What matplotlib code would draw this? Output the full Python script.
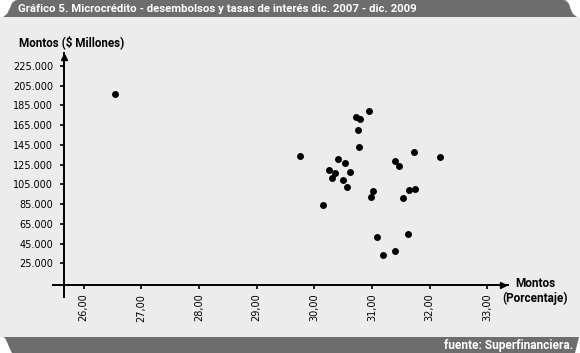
import matplotlib
matplotlib.use("Agg")
import matplotlib.pyplot as plt
from matplotlib.patches import Polygon, Rectangle

# tasas de interes (%) y desembolsos (miles de millones)
tasas = [30.94, 30.73, 30.79, 30.75, 30.77, 29.75, 31.72, 32.18, 30.41, 30.53,
         31.40, 31.46, 30.25, 30.35, 30.62, 30.31, 30.49, 30.56, 31.01, 30.98,
         31.64, 31.75, 31.53, 30.15, 31.62, 31.09, 31.39, 31.19, 26.55]
montos = [179.3, 173.5, 171.5, 159.7, 142.8, 133.6, 137.7, 132.3, 130.6, 126.5,
          128.9, 123.8, 119.1, 116.4, 117.7, 111.0, 109.0, 102.5, 98.4, 91.7,
          99.1, 100.8, 91.3, 83.9, 54.7, 52.1, 37.5, 33.4, 196.9]

x_ticks = [26, 27, 28, 29, 30, 31, 32, 33]
x_labels = ["26,00", "27,00", "28,00", "29,00", "30,00", "31,00", "32,00", "33,00"]
y_ticks = [25, 45, 65, 85, 105, 125, 145, 165, 185, 205, 225]
y_labels = ["25.000", "45.000", "65.000", "85.000", "105.000", "125.000",
            "145.000", "165.000", "185.000", "205.000", "225.000"]

titulo = "Gráfico 5. Microcrédito - desembolsos y tasas de interés dic. 2007 - dic. 2009"
fuente = "fuente: Superfinanciera."

narrow = ['Roboto', 'DejaVu Sans']
dark = '#6d6d6d'
bg = '#ececec'

fig = plt.figure(figsize=(5.8, 3.53), dpi=100)
fig.patch.set_facecolor('white')

# fondo y pestañas en pixeles
deco = fig.add_axes([0, 0, 1, 1])
deco.set_xlim(0, 580)
deco.set_ylim(353, 0)
deco.axis('off')
deco.add_patch(Rectangle((0, 17), 580, 320, color=bg, lw=0))
deco.add_patch(Polygon([(3, 17), (7, 14), (10, 8), (12, 3), (15, 0.5), (18, 0),
                        (563, 0), (566, 0.5), (569, 4), (571, 10), (573, 14),
                        (577, 17)], closed=True, color=dark, lw=0))
deco.add_patch(Polygon([(3, 337), (5, 338), (7, 342), (10, 349), (12, 353),
                        (575, 353), (577, 345), (579, 337)], closed=True,
                       color=dark, lw=0))
deco.text(18, 8.5, titulo, color='white', fontsize=8.2, fontweight='bold',
          family=narrow, va='center', ha='left')
deco.text(573, 345.5, fuente, color='white', fontsize=8.6, fontweight='bold',
          family=narrow, va='center', ha='right')
deco.text(19, 42.5, "Montos ($ Millones)", color='black', fontsize=8.4,
          fontweight='bold', family=narrow, va='center', ha='left')
deco.text(535, 291, "Montos\n(Porcentaje)", color='black', fontsize=8.5,
          fontweight='bold', family=narrow, va='center', ha='center',
          linespacing=1.25)

# grafico
ax = fig.add_axes([0.0909, 0.1578, 0.7845, 0.6912])
ax.patch.set_alpha(0)
x0, x1 = 25.462, 33.353
y0, y1 = -9.5, 237.9
xa, ya = 25.658, 3.3
ax.set_xlim(x0, x1)
ax.set_ylim(y0, y1)

for s in ['top', 'right']:
    ax.spines[s].set_visible(False)
ax.spines['left'].set_position(('data', xa))
ax.spines['bottom'].set_position(('data', ya))
ax.spines['left'].set_linewidth(1.4)
ax.spines['bottom'].set_linewidth(1.4)
ax.plot([x1 - 0.09], [ya], marker='>', color='k', ms=5, clip_on=False)
ax.plot([xa], [y1 - 3.5], marker='^', color='k', ms=5, clip_on=False)

ax.set_xticks(x_ticks)
ax.set_xticklabels(x_labels, rotation=90, fontsize=7)
ax.set_yticks(y_ticks)
ax.set_yticklabels(y_labels, fontsize=7)
ax.tick_params(axis='both', direction='out', length=3, width=1.2, color='k')
ax.tick_params(axis='y', pad=5)
ax.tick_params(axis='x', pad=3.5)

ax.plot(tasas, montos, 'o', color='black', ms=5, mew=0, clip_on=False)

fig.savefig("out.png", dpi=100, facecolor='white')
